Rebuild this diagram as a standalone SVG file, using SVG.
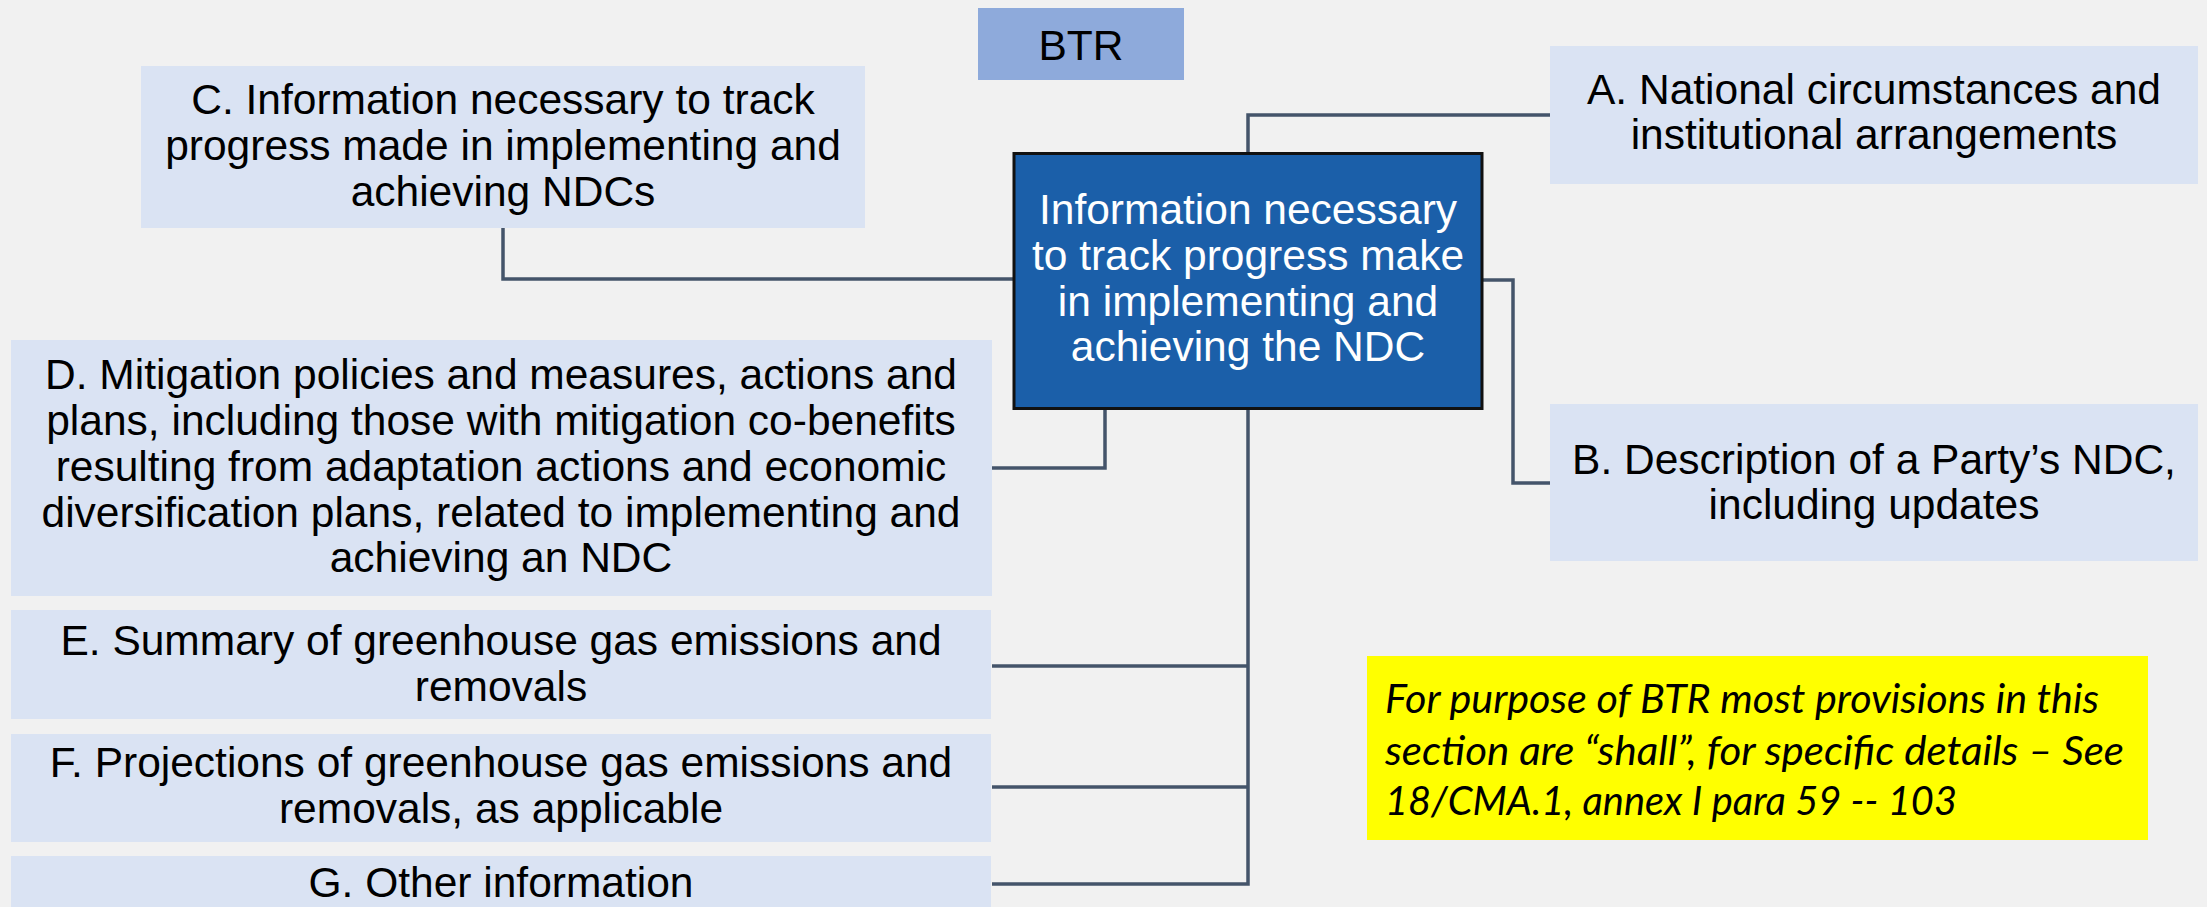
<svg xmlns="http://www.w3.org/2000/svg" width="2207" height="907" viewBox="0 0 2207 907">
<style>
.bg{fill:#F1F1F1}
.box{fill:#DAE3F3}
.t{font-family:"Liberation Sans",Arial,sans-serif;font-size:42.5px;fill:#000;text-anchor:middle}
.tw{font-family:"Liberation Sans",Arial,sans-serif;font-size:42.5px;fill:#FFFFFF;text-anchor:middle}
.note{font-family:Lato,"Open Sans",sans-serif;font-style:italic;font-size:40px;fill:#000}
.conn{fill:none;stroke:#44546A;stroke-width:3.5}
</style>
<rect class="bg" x="0" y="0" width="2207" height="907"/>
<g id="connectors">
<polyline class="conn" points="503,228 503,279 1013,279"/>
<polyline class="conn" points="1248,153 1248,115 1550,115"/>
<polyline class="conn" points="1483,280 1513,280 1513,483 1550,483"/>
<polyline class="conn" points="1105,409 1105,468 992,468"/>
<polyline class="conn" points="1248,409 1248,884 992,884"/>
<line class="conn" x1="1248" y1="666" x2="992" y2="666"/>
<line class="conn" x1="1248" y1="787" x2="992" y2="787"/>
</g>
<g id="btr">
<rect x="978" y="8" width="206" height="72" fill="#8EAADB"/>
<text class="t" x="1081" y="60">BTR</text>
</g>
<g id="center">
<rect x="1014" y="153.5" width="468" height="255" fill="#1B5FA9" stroke="#111111" stroke-width="3"/>
<text class="tw" x="1248" y="224">Information necessary</text>
<text class="tw" x="1248" y="269.5">to track progress make</text>
<text class="tw" x="1248" y="315.5">in implementing and</text>
<text class="tw" x="1248" y="361">achieving the NDC</text>
</g>
<g id="nodeA">
<rect class="box" x="1550" y="46" width="648" height="138"/>
<text class="t" x="1874" y="104">A. National circumstances and</text>
<text class="t" x="1874" y="149">institutional arrangements</text>
</g>
<g id="nodeB">
<rect class="box" x="1550" y="404" width="648" height="157"/>
<text class="t" x="1874" y="474">B. Description of a Party’s NDC,</text>
<text class="t" x="1874" y="519">including updates</text>
</g>
<g id="nodeC">
<rect class="box" x="141" y="66" width="724" height="162"/>
<text class="t" x="503" y="114">C. Information necessary to track</text>
<text class="t" x="503" y="160">progress made in implementing and</text>
<text class="t" x="503" y="206">achieving NDCs</text>
</g>
<g id="nodeD">
<rect class="box" x="11" y="340" width="981" height="256"/>
<text class="t" x="501" y="389">D. Mitigation policies and measures, actions and</text>
<text class="t" x="501" y="434.5">plans, including those with mitigation co-benefits</text>
<text class="t" x="501" y="480.5">resulting from adaptation actions and economic</text>
<text class="t" x="501" y="526.5">diversification plans, related to implementing and</text>
<text class="t" x="501" y="572">achieving an NDC</text>
</g>
<g id="nodeE">
<rect class="box" x="11" y="610" width="980" height="109"/>
<text class="t" x="501" y="655">E. Summary of greenhouse gas emissions and</text>
<text class="t" x="501" y="701">removals</text>
</g>
<g id="nodeF">
<rect class="box" x="11" y="734" width="980" height="108"/>
<text class="t" x="501" y="777">F. Projections of greenhouse gas emissions and</text>
<text class="t" x="501" y="823">removals, as applicable</text>
</g>
<g id="nodeG">
<rect class="box" x="11" y="856" width="980" height="60"/>
<text class="t" x="501" y="897">G. Other information</text>
</g>
<g id="note">
<rect x="1367" y="656" width="781" height="184" fill="#FFFF00"/>
<text class="note" x="1385" y="713" textLength="714" lengthAdjust="spacingAndGlyphs">For purpose of BTR most provisions in this</text>
<text class="note" x="1385" y="765" textLength="739" lengthAdjust="spacingAndGlyphs">section are “shall”, for specific details – See</text>
<text class="note" x="1385" y="815" textLength="572" lengthAdjust="spacingAndGlyphs">18/CMA.1, annex I para 59 -- 103</text>
</g>
</svg>
